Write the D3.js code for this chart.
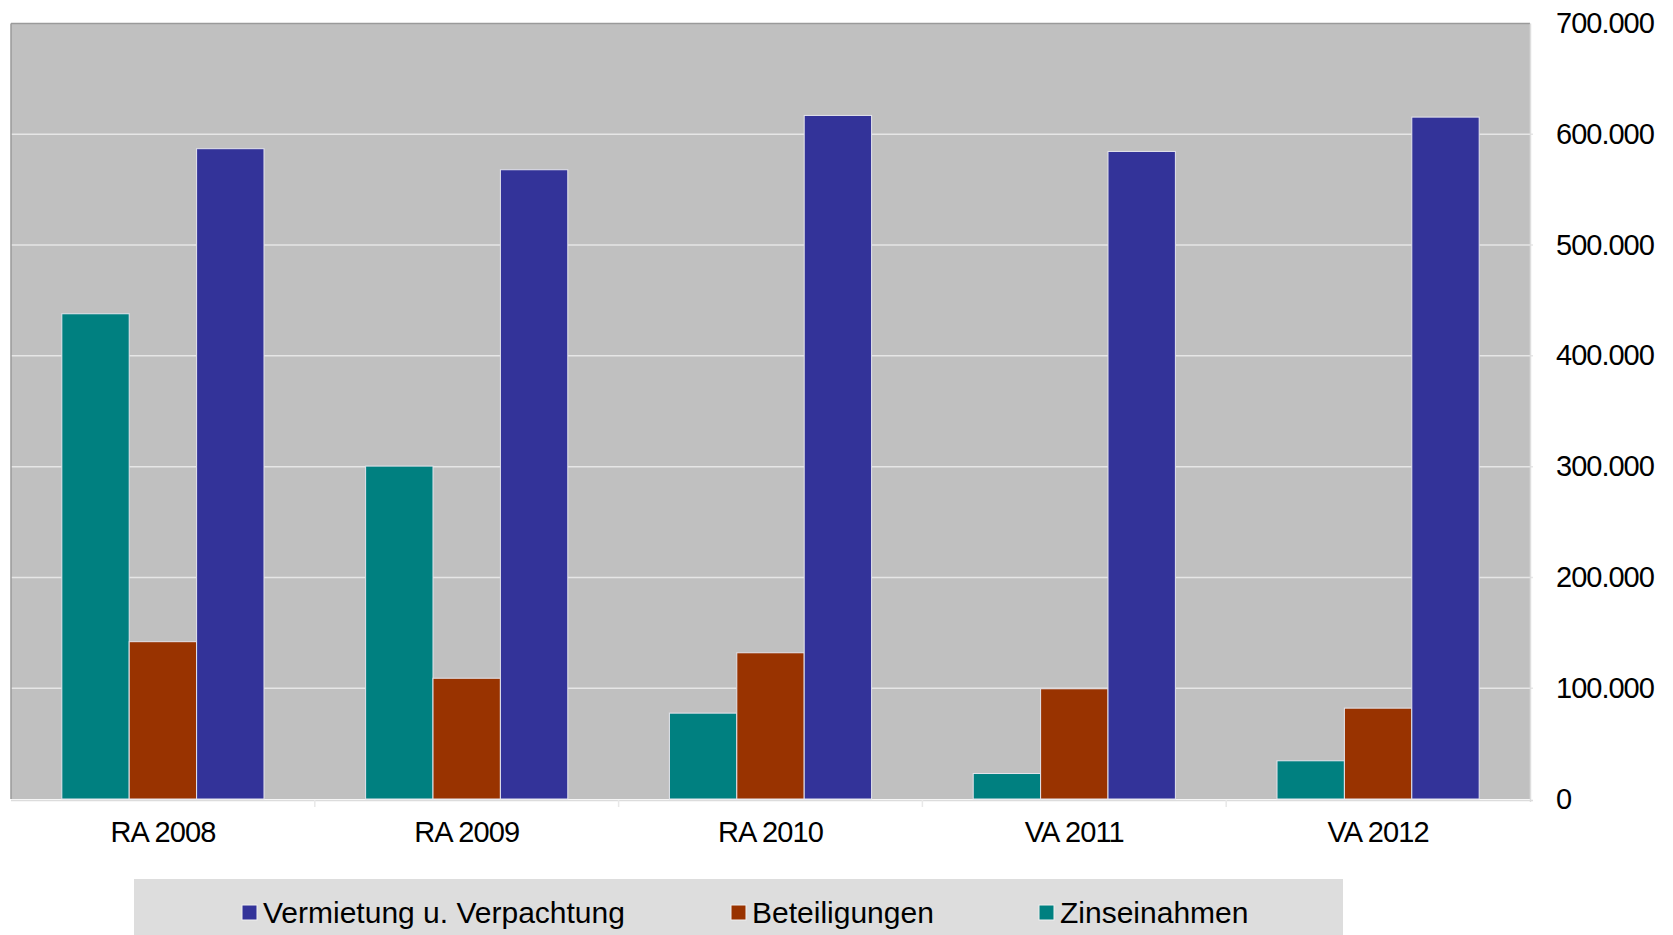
<!DOCTYPE html>
<html>
<head>
<meta charset="utf-8">
<script src="https://cdn.jsdelivr.net/npm/d3@7"></script>
<style>
  html, body { margin: 0; padding: 0; background: #ffffff; }
  svg { display: block; }
  text { font-family: "Liberation Sans", Arial, sans-serif; fill: #000; }
</style>
</head>
<body>
<svg id="chart" width="1673" height="935"></svg>
<script>
// ---- data ----
const categories = ["RA 2008", "RA 2009", "RA 2010", "VA 2011", "VA 2012"];
const seriesNames = ["Zinseinahmen", "Beteiligungen", "Vermietung u. Verpachtung"];
const zinseinahmen = [438000, 300500, 77500, 23000, 34500];
const beteiligungen = [142000, 109000, 132000, 99500, 82000];
const vermietung = [587000, 568000, 617000, 584500, 615500];
const yTicks = [0, 100000, 200000, 300000, 400000, 500000, 600000, 700000];
const legendOrder = ["Vermietung u. Verpachtung", "Beteiligungen", "Zinseinahmen"];

// ---- styles ----
const colors = {
  "Zinseinahmen": "#008080",
  "Beteiligungen": "#993300",
  "Vermietung u. Verpachtung": "#333399"
};
const seriesValues = {
  "Zinseinahmen": zinseinahmen,
  "Beteiligungen": beteiligungen,
  "Vermietung u. Verpachtung": vermietung
};

const plot = { left: 11, right: 1530, top: 23.5, bottom: 799 };
const svg = d3.select("#chart");

const x0 = d3.scaleBand().domain(categories).range([plot.left, plot.right]).paddingInner(0).paddingOuter(0);
const x1 = d3.scaleBand().domain(seriesNames).range([0, x0.bandwidth()]).paddingInner(0).paddingOuter(0.754);
const y = d3.scaleLinear().domain([0, 700000]).range([plot.bottom, plot.top]);

const locale = d3.formatLocale({ decimal: ",", thousands: ".", grouping: [3], currency: ["", " €"] });
const fmt = locale.format(",d");

// plot background
svg.append("rect")
  .attr("x", plot.left).attr("y", plot.top)
  .attr("width", plot.right - plot.left).attr("height", plot.bottom - plot.top)
  .attr("fill", "#c0c0c0");

// gridlines
svg.append("g").selectAll("line").data(yTicks.filter(d => d > 0 && d < 700000)).join("line")
  .attr("x1", plot.left).attr("x2", plot.right + 3)
  .attr("y1", d => y(d)).attr("y2", d => y(d))
  .attr("stroke", "#e6e6e6").attr("stroke-width", 1.5);

// borders: top and left darker
svg.append("line").attr("x1", plot.left).attr("x2", plot.right).attr("y1", plot.top).attr("y2", plot.top)
  .attr("stroke", "#9a9a9a").attr("stroke-width", 1.5);
svg.append("line").attr("x1", plot.left).attr("x2", plot.left).attr("y1", plot.top).attr("y2", plot.bottom)
  .attr("stroke", "#9a9a9a").attr("stroke-width", 1.5);
// right axis line (light)
svg.append("line").attr("x1", plot.right + 0.5).attr("x2", plot.right + 0.5).attr("y1", plot.top).attr("y2", plot.bottom + 3)
  .attr("stroke", "#dedede").attr("stroke-width", 1.5);

// bars
const groups = svg.append("g").selectAll("g").data(categories).join("g")
  .attr("transform", d => `translate(${x0(d)},0)`);
groups.selectAll("rect")
  .data((c, i) => seriesNames.map(s => ({ s, v: seriesValues[s][i] })))
  .join("rect")
  .attr("x", d => x1(d.s))
  .attr("width", x1.bandwidth())
  .attr("y", d => y(d.v))
  .attr("height", d => y(0) - y(d.v))
  .attr("fill", d => colors[d.s])
  .attr("stroke", "#e4e4ec").attr("stroke-width", 1);

// bottom axis
const xAxis = d3.axisBottom(x0).tickSize(0).tickPadding(0).tickFormat("");
const gx = svg.append("g").attr("transform", `translate(0,${plot.bottom + 1.5})`).call(xAxis);
gx.select(".domain").attr("stroke", "#dcdcdc").attr("stroke-width", 1.5).attr("d", `M${plot.left},0H${plot.right + 3}`);
// category boundary ticks
svg.append("g").selectAll("line").data(categories.slice(1)).join("line")
  .attr("x1", d => x0(d)).attr("x2", d => x0(d))
  .attr("y1", plot.bottom + 1).attr("y2", plot.bottom + 8)
  .attr("stroke", "#e8e8e8").attr("stroke-width", 1.5);

// category labels
svg.append("g").selectAll("text").data(categories).join("text")
  .attr("x", d => x0(d) + x0.bandwidth() / 2)
  .attr("y", 842)
  .attr("text-anchor", "middle")
  .attr("font-size", 29)
  .attr("letter-spacing", "-0.9px")
  .text(d => d);

// y labels (right side)
svg.append("g").selectAll("text").data(yTicks).join("text")
  .attr("x", 1556)
  .attr("y", d => y(d) + 9.5)
  .attr("text-anchor", "start")
  .attr("font-size", 29)
  .attr("letter-spacing", "-1.0px")
  .text(d => fmt(d));

// legend
svg.append("rect").attr("x", 134).attr("y", 879).attr("width", 1209).attr("height", 60).attr("fill", "#dddddd");
const legendX = { "Vermietung u. Verpachtung": 242, "Beteiligungen": 731, "Zinseinahmen": 1039 };
const lg = svg.append("g").selectAll("g").data(legendOrder).join("g")
  .attr("transform", d => `translate(${legendX[d]},0)`);
lg.append("rect").attr("x", 0).attr("y", 905).attr("width", 15).attr("height", 15)
  .attr("fill", d => colors[d]).attr("stroke", "#f0f0f0").attr("stroke-width", 1);
lg.append("text").attr("x", 21).attr("y", 923).attr("font-size", 30).text(d => d);
</script>
</body>
</html>
